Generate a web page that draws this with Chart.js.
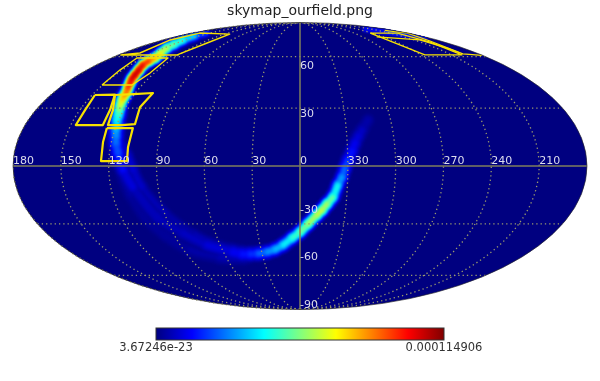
<!DOCTYPE html>
<html>
<head>
<meta charset="utf-8">
<script src="https://cdn.jsdelivr.net/npm/chart.js@4/dist/chart.umd.js"></script>
<style>
	html, body { margin: 0; padding: 0; background: #fff; }
	canvas { display: block; }
</style>
</head>
<body>
<canvas id="skymap" width="600" height="381"></canvas>
<script>
// tick labels
const lonTicks = [180, 150, 120, 90, 60, 30, 0, 330, 300, 270, 240, 210];
const latTicks = [60, 30, -30, -60, -90];
const latLabelShift = [10, 6, -14, -18.5, -4]; // healpy puts them off the line
const colorMinLabel = '3.67246e-23';
const colorMaxLabel = '0.000114906';

// probability band, read along its crest: lon/lat in degrees, level as a 0..1 share of the colour scale, spread in degrees
const mainLon = [156, 155.7, 153.2, 148.8, 146.6, 141.5, 138.2, 138.9, 138.6, 135.9, 133.9, 132.6, 130.7, 128.6, 126.7, 126.2, 125.7, 124.4, 123.2, 122, 121.2, 119.8, 119.2, 118, 116.9, 114.6, 113, 111, 105.9, 95.9, 83, 69.9, 52.5, 46, 39.7, 33.2, 25.9, 19.3, 12.8, 5.8, 0, 354.5, 348.7, 345.5, 342.4, 338.8, 336, 333.6, 331.8, 329.9, 327.2, 325, 322.5, 319.8, 315];
const mainLat = [77.5, 75, 71.8, 68.5, 65.8, 62.4, 59.1, 57.2, 54.6, 51.5, 48.5, 46.2, 43.9, 41, 38.2, 36.2, 34.4, 31.6, 28.9, 26.3, 23.6, 21, 18.4, 15.3, 11.7, 6.6, 2.5, -2, -10.7, -26.3, -34.9, -41.6, -45.6, -46.8, -46.8, -46.5, -45.6, -44.1, -41.6, -37.7, -34.4, -30, -25.2, -22.6, -19.4, -15.8, -9.7, -5.6, -1, 3, 7.6, 11.7, 15.3, 18.4, 23.6];
const mainLevel = [0.14, 0.32, 0.44, 0.5, 0.57, 0.65, 0.74, 0.84, 0.94, 0.98, 1, 0.97, 0.93, 0.87, 0.8, 0.75, 0.7, 0.61, 0.52, 0.46, 0.4, 0.35, 0.32, 0.28, 0.26, 0.21, 0.16, 0.13, 0.08, 0.06, 0.065, 0.08, 0.12, 0.15, 0.18, 0.22, 0.28, 0.32, 0.37, 0.44, 0.5, 0.57, 0.61, 0.61, 0.57, 0.47, 0.36, 0.28, 0.22, 0.19, 0.14, 0.11, 0.085, 0.065, 0.04];
const mainSpread = [1.1, 1.4, 1.7, 1.7, 1.8, 1.8, 1.8, 1.7, 1.7, 1.7, 1.7, 1.7, 1.7, 1.8, 1.9, 2, 2, 2.1, 2.2, 2.3, 2.4, 2.5, 2.5, 2.5, 2.5, 2.5, 2.5, 2.5, 2.8, 2.8, 2.8, 2.8, 2.8, 2.7, 2.4, 2.3, 2.2, 2.1, 2.1, 2, 2, 2, 2, 2, 2, 2, 2, 2.1, 2.2, 2.3, 2.3, 2.4, 2.5, 2.5, 2.5];

const innerLon = [113.1, 108.8, 104.7, 100.2, 89.6, 75.1, 58];
const innerLat = [11.7, 5.6, -2, -10.7, -24.2, -36, -44.4];
const innerLevel = [0.06, 0.1, 0.09, 0.07, 0.05, 0.05, 0.07];
const innerSpread = [2.2, 2.2, 2.2, 2.2, 2.2, 2.2, 2.2];

const outerLon = [111.3, 108.3, 104, 96.6, 85.1, 64.9, 45];
const outerLat = [-5.6, -14.7, -26.3, -36, -44.4, -48.5, -49.1];
const outerLevel = [0.05, 0.04, 0.035, 0.035, 0.04, 0.05, 0.07];
const outerSpread = [2.8, 2.8, 2.8, 2.8, 2.8, 2.8, 2.8];

const rimLon = [222.5, 203, 192, 186.6];
const rimLat = [81.3, 79, 76.6, 73.4];
const rimLevel = [0.14, 0.2, 0.24, 0.12];
const rimSpread = [1, 1, 1, 1];

// observed fields, outline vertices in degrees
const fieldLon = [
	[178, 162.9, 170.2, 167.2, 112, 113.2, 121.7, 178],
	[150.4, 151.9, 155.4, 125.8, 123.5, 127.6, 150.4],
	[148, 133.8, 129.4, 129, 146.7, 146.4, 148],
	[133.5, 120.4, 107.1, 110, 108.2, 116.5, 125.7, 127.4, 133.5],
	[125.6, 108.7, 108.8, 108.6, 124.9, 125.3, 125.6],
	[243, 198, 198, 199.7, 236.3, 243],
	[197, 181, 194, 196.4, 181],
	[250, 203, 198, 197.1],
];
const fieldLat = [
	[61.1, 62.4, 71.8, 77.5, 76.6, 69.5, 61.1, 61.1],
	[42.7, 51.5, 59.1, 59.1, 49.7, 42.7, 42.7],
	[37.1, 37.3, 28.9, 21, 21, 28.9, 37.1],
	[37.1, 37.6, 38.2, 30.4, 21.5, 21, 21, 28.9, 37.1],
	[19.4, 19.4, 9.7, 2.5, 2.5, 12.2, 19.4],
	[77.5, 77.5, 70.2, 61.1, 61.1, 77.5],
	[80, 77.5, 71, 61.8, 60.8],
	[74.2, 71.8, 65.8, 62.4],
];
const fieldStroke = [1.4, 1.4, 2.2, 2.2, 2.2, 1.3, 1.3, 1.3];

// colour steps stacked to paint the band
const bandSteps = [0.012, 0.025, 0.04, 0.055, 0.07, 0.09, 0.11, 0.14, 0.17, 0.2, 0.24, 0.28, 0.32, 0.36, 0.4, 0.45, 0.5, 0.55, 0.6, 0.65, 0.7, 0.75, 0.8, 0.85, 0.9, 0.95];

const PX_PER_DEG = 574 / 360;
const GRID_COLOR = '#9a9a6c';
const LINE_COLOR = '#7f7f5c';
const LABEL_COLOR = '#dcdcec';
const FIELD_COLOR = '#f7e200';
const BAR = { left: 156, right: 444, top: 328, bottom: 340 };

function jet(v) {
	const c = (d) => Math.round(255 * Math.max(0, Math.min(1, 1.5 - Math.abs(4 * v - d))));
	return `rgb(${c(3)},${c(2)},${c(1)})`;
}

// Mollweide, 0 in the middle and longitude growing to the left
function project(lon, lat) {
	const wrapped = lon > 180 ? lon - 360 : lon;
	const phi = (lat * Math.PI) / 180;
	let theta = phi;
	if (Math.abs(lat) !== 90) {
		for (let i = 0; i < 30; i++) {
			theta -= (2 * theta + Math.sin(2 * theta) - Math.PI * Math.sin(phi)) / (2 + 2 * Math.cos(2 * theta));
		}
	}
	return { x: (-wrapped / 180) * Math.cos(theta), y: Math.sin(theta) };
}

const path = (lons, lats) => lons.map((lon, i) => project(lon, lats[i]));

const gridLats = [];
for (let lat = -90; lat <= 90; lat += 3) gridLats.push(lat);
const gridLons = [];
for (let lon = -180; lon <= 180; lon += 5) gridLons.push(lon);

const datasets = [];
const base = { showLine: true, pointRadius: 0, pointHoverRadius: 0, fill: false };

const ridges = [
	[mainLon, mainLat, mainLevel, mainSpread],
	[innerLon, innerLat, innerLevel, innerSpread],
	[outerLon, outerLat, outerLevel, outerSpread],
	[rimLon, rimLat, rimLevel, rimSpread],
];

bandSteps.forEach((step, s) => {
	ridges.forEach(([lons, lats, levels, spreads]) => {
		const level = (c) => (levels[c.p0DataIndex] + levels[c.p1DataIndex]) / 2;
		const spread = (c) => (spreads[c.p0DataIndex] + spreads[c.p1DataIndex]) / 2;
		datasets.push({
			...base,
			heat: true,
			data: path(lons, lats),
			tension: 0.35,
			borderCapStyle: 'round',
			borderJoinStyle: 'round',
			borderColor: jet(step),
			borderWidth: 1,
			order: 500 - s,
			segment: {
				borderColor: (c) => (level(c) > step ? jet(step) : 'rgba(0,0,0,0)'),
				borderWidth: (c) => {
					const l = level(c);
					if (l <= step) return 0.01;
					return 2 * spread(c) * PX_PER_DEG * Math.sqrt(2 * Math.log(l / step));
				},
			},
		});
	});
});

// graticule on top of the band
lonTicks.forEach((lon) => {
	if (lon === 0) return;
	datasets.push({
		...base,
		data: gridLats.map((lat) => project(lon, lat)),
		borderColor: GRID_COLOR,
		borderWidth: 1.3,
		borderDash: [1.3, 3],
		order: 50,
	});
});
latTicks.forEach((lat) => {
	if (Math.abs(lat) === 90) return;
	datasets.push({
		...base,
		data: gridLons.map((lon) => project(lon, lat)).sort((a, b) => a.x - b.x),
		borderColor: GRID_COLOR,
		borderWidth: 1.3,
		borderDash: [1.3, 3],
		order: 50,
	});
});
datasets.push({ ...base, data: [project(180, 0), project(-180, 0)], borderColor: LINE_COLOR, borderWidth: 1.5, order: 40 });
datasets.push({ ...base, data: [project(0, -90), project(0, 90)], borderColor: LINE_COLOR, borderWidth: 1.5, order: 40 });

fieldLon.forEach((lons, i) => {
	datasets.push({
		...base,
		data: path(lons, fieldLat[i]),
		borderColor: FIELD_COLOR,
		borderWidth: fieldStroke[i],
		borderJoinStyle: 'round',
		order: 10,
	});
});

function ellipsePath(ctx, area) {
	ctx.beginPath();
	ctx.ellipse((area.left + area.right) / 2, (area.top + area.bottom) / 2, area.width / 2, area.height / 2, 0, 0, Math.PI * 2);
}

const skyPlugin = {
	id: 'sky',
	beforeDatasetsDraw(chart) {
		const ctx = chart.ctx;
		ctx.save();
		ellipsePath(ctx, chart.chartArea);
		ctx.fillStyle = jet(0);
		ctx.fill();
		ctx.restore();
	},
	beforeDatasetDraw(chart, args) {
		if (!chart.data.datasets[args.index].heat) return;
		const ctx = chart.ctx;
		ctx.save();
		ellipsePath(ctx, chart.chartArea);
		ctx.clip();
		ctx.filter = 'blur(1.5px)';
	},
	afterDatasetDraw(chart, args) {
		if (chart.data.datasets[args.index].heat) chart.ctx.restore();
	},
	afterDatasetsDraw(chart) {
		const ctx = chart.ctx;
		const { x, y } = chart.scales;
		ctx.save();
		ellipsePath(ctx, chart.chartArea);
		ctx.strokeStyle = 'rgba(40,40,40,0.8)';
		ctx.lineWidth = 0.8;
		ctx.stroke();

		ctx.font = '11px "DejaVu Sans"';
		ctx.fillStyle = LABEL_COLOR;
		ctx.textAlign = 'left';
		ctx.textBaseline = 'middle';
		lonTicks.forEach((lon) => {
			const p = project(lon, 0);
			ctx.fillText(String(lon), x.getPixelForValue(p.x), y.getPixelForValue(0) - 4.5);
		});
		latTicks.forEach((lat, i) => {
			const p = project(0, lat);
			ctx.fillText(String(lat), x.getPixelForValue(0), y.getPixelForValue(p.y) + latLabelShift[i]);
		});

		// colour bar
		const grad = ctx.createLinearGradient(BAR.left, 0, BAR.right, 0);
		for (let i = 0; i <= 32; i++) grad.addColorStop(i / 32, jet(i / 32));
		ctx.fillStyle = grad;
		ctx.fillRect(BAR.left, BAR.top, BAR.right - BAR.left, BAR.bottom - BAR.top);
		ctx.strokeStyle = '#333';
		ctx.lineWidth = 1;
		ctx.strokeRect(BAR.left, BAR.top, BAR.right - BAR.left, BAR.bottom - BAR.top);

		ctx.font = '11.5px "DejaVu Sans"';
		ctx.fillStyle = '#333';
		ctx.textAlign = 'center';
		ctx.fillText(colorMinLabel, BAR.left, 348.5);
		ctx.fillText(colorMaxLabel, BAR.right, 348.5);
		ctx.restore();
	},
};

new Chart('skymap', {
	type: 'scatter',
	data: { datasets },
	plugins: [skyPlugin],
	options: {
		responsive: false,
		animation: false,
		events: [],
		layout: { padding: { left: 13, right: 13, bottom: 71.5 } },
		scales: {
			x: { type: 'linear', min: -1, max: 1, display: false },
			y: { type: 'linear', min: -1, max: 1, display: false },
		},
		plugins: {
			legend: { display: false },
			tooltip: { enabled: false },
			title: {
				display: true,
				text: 'skymap_ourfield.png',
				color: '#222',
				font: { family: '"DejaVu Sans"', size: 14, weight: 'normal' },
				padding: { top: 3, bottom: 2.7 },
			},
		},
	},
});
</script>
</body>
</html>
